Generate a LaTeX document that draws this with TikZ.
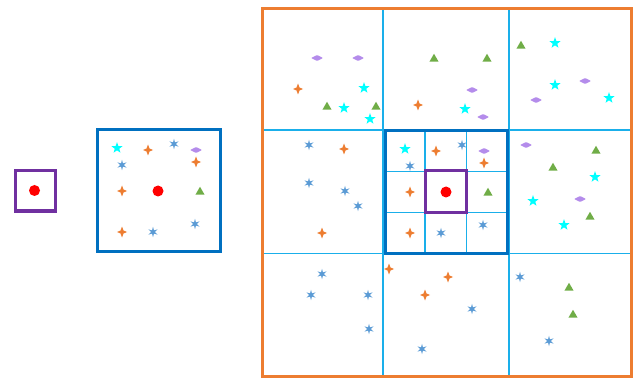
\documentclass[tikz,border=0pt]{standalone}
\usepackage{xcolor}
\usepackage{tikz}
\usetikzlibrary{shapes.geometric}
\definecolor{frameorange}{HTML}{ED7D31}
\definecolor{gridcyan}{HTML}{1AAFEA}
\definecolor{boxblue}{HTML}{0070C0}
\definecolor{cellpurple}{HTML}{7030A0}
\definecolor{astblue}{HTML}{5B9BD5}
\definecolor{trigreen}{HTML}{70AD47}
\definecolor{diamlilac}{HTML}{B48CEB}
\definecolor{starcyan}{HTML}{00FFFF}
\tikzset{
  pics/sparkle/.style  = {code={\fill[frameorange] (0,-5.5) -- (1.5,-1.5) -- (5,0)
                            -- (1.5,1.5) -- (0,5.5) -- (-1.5,1.5) -- (-5,0)
                            -- (-1.5,-1.5) -- cycle;}},
  pics/asterisk/.style = {code={\fill[astblue] (270:5.2)
                            \foreach \k in {0,...,5} {-- (270+60*\k:5.2) -- (300+60*\k:1.9)}
                            -- cycle;}},
  pics/cstar/.style    = {code={\fill[starcyan] (270:5.8)
                            \foreach \k in {0,...,4} {-- (270+72*\k:5.8) -- (306+72*\k:2.4)}
                            -- cycle;}},
  pics/lilac/.style    = {code={\fill[diamlilac, rounded corners=0.8pt] (-6,0) -- (0,-3)
                            -- (6,0) -- (0,3) -- cycle;}},
  tri/.style      = {regular polygon, regular polygon sides=3, fill=trigreen,
                     draw=none, inner sep=0pt, minimum size=10.5pt},
  query/.style    = {circle, fill=red, draw=none, inner sep=0pt, minimum size=11pt},
  gridline/.style = {gridcyan, line width=1.2pt},
  nbox/.style     = {boxblue, line width=3pt},
  qbox/.style     = {cellpurple, line width=3pt},
}
% points round the query cell, #1 = name prefix
\newcommand{\neighbourhood}[1]{%
  \foreach \x/\y [count=\i] in {148/150, 196/162, 122/191, 122/232}
    \pic (#1sp\i) at (\x,\y) {sparkle};
  \foreach \x/\y [count=\i] in {174/144, 122/165, 153/232, 195/224}
    \pic (#1as\i) at (\x,\y) {asterisk};
  \pic (#1cs) at (117,148) {cstar};
  \pic (#1di) at (196,150) {lilac};
  \node[tri]   (#1tr) at (200,192) {};
  \node[query] (#1q)  at (158,191) {};
}

\begin{document}
\begin{tikzpicture}[x=1pt,y=-1pt]
\useasboundingbox (0,0) rectangle (636,379);

% query cell
\draw[qbox] (15,170.5) rectangle (55.5,211);
\node[query] (q0) at (34.5,190.5) {};

% neighbourhood
\draw[nbox] (97.5,129.5) rectangle (220,251.5);
\neighbourhood{a}

% full grid
\draw[gridline] (383,8.5) -- (383,376.5);
\draw[gridline] (509,8.5) -- (509,376.5);
\draw[gridline] (262.5,130) -- (631.5,130);
\draw[gridline] (262.5,253.5) -- (631.5,253.5);
\draw[gridline] (425,131) -- (425,253);
\draw[gridline] (466.5,131) -- (466.5,253);
\draw[gridline] (385,171.5) -- (507,171.5);
\draw[gridline] (385,212.5) -- (507,212.5);
\draw[frameorange, line width=3pt] (262.5,8.5) rectangle (631.5,376.5);
\draw[nbox] (385,131) rectangle (507,253);
\draw[qbox] (425,171) rectangle (466.5,212.5);

\begin{scope}[shift={(288,1)}]
  \neighbourhood{b}
\end{scope}

\foreach \x/\y [count=\i] in {298/89, 418/105, 344/149, 322/233, 389/269, 448/277, 425/295}
  \pic (sp\i) at (\x,\y) {sparkle};
\foreach \x/\y [count=\i] in {309/145, 309/183, 345/191, 358/206, 322/274, 311/295,
    368/295, 369/329, 472/309, 422/349, 520/277, 549/341}
  \pic (as\i) at (\x,\y) {asterisk};
\foreach \x/\y [count=\i] in {364/88, 344/108, 370/119, 465/109, 555/43, 555/85,
    609/98, 595/177, 533/201, 564/225}
  \pic (cs\i) at (\x,\y) {cstar};
\foreach \x/\y [count=\i] in {317/58, 358/58, 472/90, 483/117, 585/81, 536/100,
    526/145, 580/199}
  \pic (di\i) at (\x,\y) {lilac};
\foreach \x/\y [count=\i] in {327/107, 376/107, 434/59, 487/59, 521/46, 596/151,
    553/168, 590/217, 569/288, 573/315}
  \node[tri] (tr\i) at (\x,\y) {};
\end{tikzpicture}
\end{document}
